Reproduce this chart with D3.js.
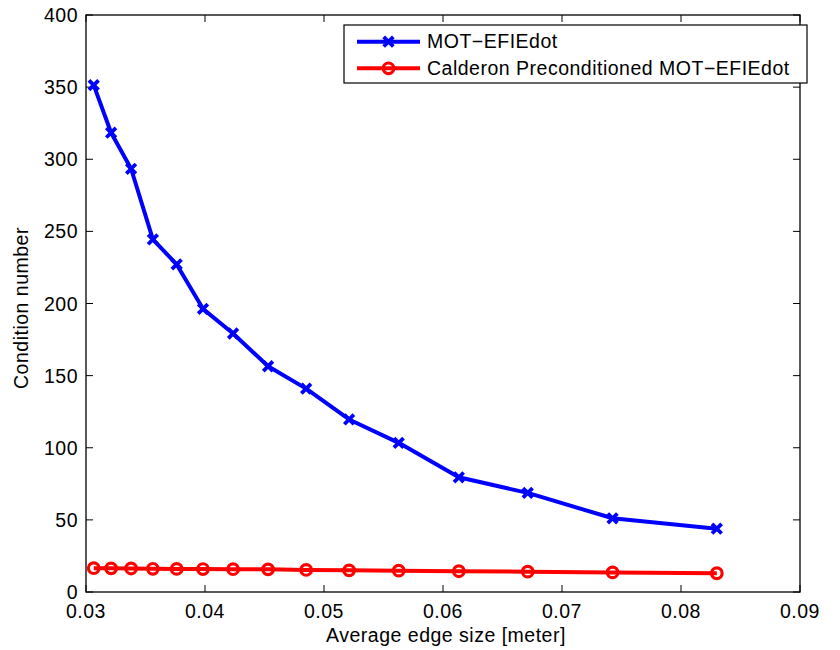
<!DOCTYPE html>
<html lang="en">
<head>
    <meta charset="UTF-8">
    <script src="https://d3js.org/d3.v7.min.js"></script>
    <title>Condition number</title>
    <style>
        body { margin: 0; background: #fff; font-family: "Liberation Sans", Arial, sans-serif; }
        svg text { font-family: "Liberation Sans", Arial, sans-serif; fill: #000; font-size: 19.5px; letter-spacing: 0.5px; }
    </style>
</head>
<body>
    <svg id="chart" width="840" height="650"></svg>
    <script>
        // edge sizes (meter)
        const edgeSize = [0.03065, 0.03211, 0.03379, 0.03562, 0.03762, 0.03983, 0.04236, 0.04530,
                          0.04850, 0.05211, 0.05628, 0.06133, 0.06712, 0.07425, 0.08301];
        const motEfie = [351.4, 318.4, 293.4, 244.4, 227.1, 196.3, 179.2, 156.5,
                         141.0, 119.6, 103.4, 79.5, 68.7, 51.1, 43.9];
        const calderon = [16.5, 16.4, 16.3, 16.1, 16.0, 15.9, 15.8, 15.7,
                          15.3, 15.0, 14.8, 14.4, 14.1, 13.6, 13.0];
        const xTicks = [0.03, 0.04, 0.05, 0.06, 0.07, 0.08, 0.09];
        const yTicks = [0, 50, 100, 150, 200, 250, 300, 350, 400];
        const seriesNames = ["MOT\u2212EFIEdot", "Calderon Preconditioned MOT\u2212EFIEdot"];

        const plotL = 86, plotR = 800, plotT = 15, plotB = 592;
        const svg = d3.select("#chart");

        const x = d3.scaleLinear().domain([0.03, 0.09]).range([plotL, plotR]);
        const y = d3.scaleLinear().domain([0, 400]).range([plotB, plotT]);

        const tickLen = 7;
        const g = svg.append("g");

        // frame
        g.append("rect")
            .attr("x", plotL).attr("y", plotT)
            .attr("width", plotR - plotL).attr("height", plotB - plotT)
            .attr("fill", "none").attr("stroke", "#000").attr("stroke-width", 1.3);

        // ticks on all four sides, pointing inward
        xTicks.forEach(t => {
            g.append("line").attr("x1", x(t)).attr("x2", x(t))
                .attr("y1", plotB).attr("y2", plotB - tickLen).attr("stroke", "#000");
            g.append("line").attr("x1", x(t)).attr("x2", x(t))
                .attr("y1", plotT).attr("y2", plotT + tickLen).attr("stroke", "#000");
            g.append("text").attr("x", x(t)).attr("y", 618)
                .attr("text-anchor", "middle")
                .text(d3.format(".2f")(t));
        });
        yTicks.forEach(t => {
            g.append("line").attr("x1", plotL).attr("x2", plotL + tickLen)
                .attr("y1", y(t)).attr("y2", y(t)).attr("stroke", "#000");
            g.append("line").attr("x1", plotR).attr("x2", plotR - tickLen)
                .attr("y1", y(t)).attr("y2", y(t)).attr("stroke", "#000");
            g.append("text").attr("x", plotL - 8).attr("y", y(t) + 7)
                .attr("text-anchor", "end")
                .text(t);
        });

        // axis labels
        g.append("text").attr("x", 446).attr("y", 642)
            .attr("text-anchor", "middle")
            .text("Average edge size [meter]");
        g.append("text")
            .attr("transform", "translate(28,308) rotate(-90)")
            .attr("text-anchor", "middle")
            .text("Condition number");

        const line = d3.line().x(d => x(d[0])).y(d => y(d[1]));
        const blueData = edgeSize.map((e, i) => [e, motEfie[i]]);
        const redData = edgeSize.map((e, i) => [e, calderon[i]]);

        const drawCross = (sel, cx, cy) => {
            const s = 4.8;
            sel.append("path")
                .attr("d", `M${cx - s},${cy - s}L${cx + s},${cy + s}M${cx - s},${cy + s}L${cx + s},${cy - s}`)
                .attr("stroke", "#0000ff").attr("stroke-width", 3.8).attr("fill", "none");
        };
        const drawCircle = (sel, cx, cy) => {
            sel.append("circle").attr("cx", cx).attr("cy", cy).attr("r", 5.3)
                .attr("fill", "none").attr("stroke", "#ff0000").attr("stroke-width", 3.2);
        };

        g.append("path").datum(blueData).attr("d", line)
            .attr("fill", "none").attr("stroke", "#0000ff").attr("stroke-width", 4)
            .attr("stroke-linejoin", "round");
        blueData.forEach(d => drawCross(g, x(d[0]), y(d[1])));

        g.append("path").datum(redData).attr("d", line)
            .attr("fill", "none").attr("stroke", "#ff0000").attr("stroke-width", 4)
            .attr("stroke-linejoin", "round");
        redData.forEach(d => drawCircle(g, x(d[0]), y(d[1])));

        // legend
        const lg = svg.append("g");
        lg.append("rect").attr("x", 344).attr("y", 25).attr("width", 463).attr("height", 58)
            .attr("fill", "#fff").attr("stroke", "#000").attr("stroke-width", 1.2);
        const rows = [41.7, 68.3];
        rows.forEach((ry, i) => {
            const col = i === 0 ? "#0000ff" : "#ff0000";
            lg.append("line").attr("x1", 357).attr("x2", 420).attr("y1", ry).attr("y2", ry)
                .attr("stroke", col).attr("stroke-width", 4);
            if (i === 0) drawCross(lg, 388.5, ry); else drawCircle(lg, 388.5, ry);
            lg.append("text").attr("x", 427).attr("y", ry + 6.5)
                .text(seriesNames[i]);
        });
    </script>
</body>
</html>
